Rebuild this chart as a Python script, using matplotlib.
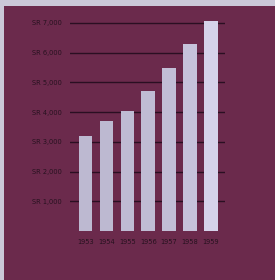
import matplotlib
matplotlib.use("Agg")
import matplotlib.pyplot as plt

years = ["1953", "1954", "1955", "1956", "1957", "1958", "1959"]
values = [3200, 3700, 4050, 4700, 5500, 6300, 7070]
tick_values = [1000, 2000, 3000, 4000, 5000, 6000, 7000]
tick_labels = ["SR 1,000", "SR 2,000", "SR 3,000", "SR 4,000", "SR 5,000", "SR 6,000", "SR 7,000"]
bar_colors = ["#bdb9d1", "#bdb9d1", "#bfbbd3", "#c0bcd4", "#c2bed6", "#c6c2da", "#d6d2ea"]

W, H = 275, 280
fig = plt.figure(figsize=(W / 100, H / 100), dpi=100)
fig.patch.set_facecolor("#cbc8d8")

bg = fig.add_axes([4 / W, 0, 1 - 4 / W, (H - 6) / H], zorder=0)
bg.set_facecolor("#6b2a4c")
bg.set_xticks([])
bg.set_yticks([])
for s in bg.spines.values():
    s.set_visible(False)

ax = fig.add_axes([70 / W, 49 / H, 155 / W, 212.5 / H], zorder=1)
ax.set_facecolor("none")
for s in ax.spines.values():
    s.set_visible(False)

font = ["Liberation Sans Narrow", "DejaVu Sans"]
txtcol = "#26121f"

for v in tick_values:
    ax.axhline(v, color="#2a0f22", lw=1.0, zorder=1)

x = list(range(len(years)))
ax.bar(x, values, width=0.65, color=bar_colors, zorder=2)
ax.set_xlim(-0.74, 6.67)
ax.set_ylim(0, 7150)

ax.set_yticks(tick_values)
ax.set_yticklabels(tick_labels, fontsize=4.8, color=txtcol, family=font)
ax.tick_params(axis="y", length=0, pad=6)
ax.set_xticks(x)
ax.set_xticklabels(years, fontsize=4.8, color=txtcol, family=font)
ax.tick_params(axis="x", length=0, pad=6)

fig.savefig("out.png", dpi=100, facecolor=fig.get_facecolor())
